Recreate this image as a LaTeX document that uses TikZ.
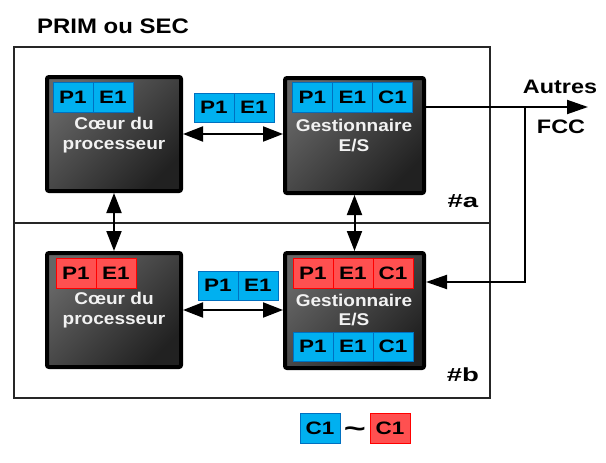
\documentclass[tikz,border=0pt]{standalone}
\usepackage{fontspec}
\setmainfont{Liberation Sans}
\newfontfamily\tagf[FakeStretch=1.25]{Liberation Sans}
\newfontfamily\lblf[FakeStretch=1.12]{Liberation Sans}
\newfontfamily\titlef[FakeStretch=1.14]{Liberation Sans}
\newfontfamily\sidef[FakeStretch=1.2]{Liberation Sans}
\newfontfamily\hashf[FakeStretch=1.45]{Liberation Sans}
\usetikzlibrary{arrows.meta,calc}
\definecolor{tagblue}{HTML}{00B0F0}
\definecolor{tagblueb}{HTML}{0070C0}
\definecolor{tagred}{HTML}{FF5050}
\definecolor{tagredb}{HTML}{FF0000}
\definecolor{lbltext}{HTML}{F2F2F2}
\begin{document}
\begin{tikzpicture}[x=1pt,y=-1pt,
  cell/.style={draw, line width=0.8pt, minimum width=40pt, minimum height=30pt, inner sep=0pt,
    font=\tagf\bfseries\fontsize{18}{18}\selectfont, text=black},
  bcell/.style={cell, fill=tagblue, draw=tagblueb},
  rcell/.style={cell, fill=tagred, draw=tagredb},
  unit/.style={draw=black, line width=4pt, rounded corners=2pt, top color=black!60,
    bottom color=black!87, shading angle=45, inner sep=0pt},
  lbl/.style={text=lbltext, font=\lblf\bfseries\fontsize{17}{19.5}\selectfont, align=center},
  txt/.style={font=\sidef\bfseries\fontsize{19.5}{20}\selectfont, text=black},
  hash/.style={font=\hashf\bfseries\fontsize{19}{20}\selectfont, text=black},
  arr/.style={line width=2pt, {Triangle[length=20pt,width=15pt]}-{Triangle[length=20pt,width=15pt]}},
  arrone/.style={line width=2pt, -{Triangle[length=21pt,width=14pt]}},
  frame/.style={draw=black!85, line width=1.2pt, inner sep=0pt}
]
\useasboundingbox (0,0) rectangle (606,463);

% frames
\node[frame, minimum width=476pt, minimum height=176pt] (fa) at (252,135) {};
\node[frame, minimum width=476pt, minimum height=175pt] (fb) at (252,310.5) {};

% title
\node[font=\titlef\bfseries\fontsize{21}{21}\selectfont] (title) at (113,26) {PRIM ou SEC};

% units
\node[unit, minimum width=134pt, minimum height=114pt] (ct) at (114,134) {};
\node[unit, minimum width=139pt, minimum height=115pt] (gt) at (354.5,135.5) {};
\node[unit, minimum width=134pt, minimum height=114pt] (cb) at (114,310) {};
\node[unit, minimum width=139pt, minimum height=115pt] (gb) at (354.5,310.5) {};

% labels
\node[lbl] (ctl) at (114,135) {Cœur du\\processeur};
\node[lbl] (gtl) at (354,135.5) {Gestionnaire\\E/S};
\node[lbl] (cbl) at (114,310) {Cœur du\\processeur};
\node[lbl] (gbl) at (354,310) {Gestionnaire\\E/S};

% tags core top
\node[bcell] (ctp) at (73,97) {P1};
\node[bcell] (cte) at (113,97) {E1};
% tags middle top
\node[bcell, minimum height=29pt] (mtp) at (214,107.5) {P1};
\node[bcell, minimum height=29pt] (mte) at (254,107.5) {E1};
% tags gest top
\node[bcell] (gtp) at (312.5,97) {P1};
\node[bcell] (gte) at (352.5,97) {E1};
\node[bcell] (gtc) at (392.5,97) {C1};

% tags core bottom
\node[rcell] (cbp) at (76,273) {P1};
\node[rcell] (cbe) at (116,273) {E1};
% tags middle bottom
\node[bcell, minimum height=29pt] (mbp) at (218,285.5) {P1};
\node[bcell, minimum height=29pt] (mbe) at (258,285.5) {E1};
% tags gest bottom
\node[rcell] (gbp) at (313,273) {P1};
\node[rcell] (gbe) at (353,273) {E1};
\node[rcell] (gbc) at (393,273) {C1};
\node[bcell, minimum height=29pt] (gbp2) at (313,346.5) {P1};
\node[bcell, minimum height=29pt] (gbe2) at (353,346.5) {E1};
\node[bcell, minimum height=29pt] (gbc2) at (393,346.5) {C1};

% corner labels
\node[hash] (la) at (463,201) {\#a};
\node[hash] (lb) at (463,375) {\#b};
\node[txt] (autres) at (560,87) {Autres};
\node[txt] (fcc) at (561,127) {FCC};

% legend
\node[bcell] (legb) at (320,428) {C1};
\node[font=\hashf\bfseries\fontsize{26}{26}\selectfont, anchor=base] (tilde) at (355,437) {\textasciitilde};
\node[rcell] (legr) at (390,428) {C1};

% connectors
\draw[arr] (ct.east) -- (ct.east -| gt.west);
\draw[arr] (cb.east) -- (cb.east -| gb.west);
\draw[arr] (ct.south) -- (cb.north);
\draw[arr] (gt.south) -- (gb.north);

\coordinate (outend) at (588,107);
\coordinate (junc) at (525,107);
\coordinate (inpt) at (525,282);
\draw[arrone] (gt.east |- outend) -- (outend);
\draw[arrone] (junc) -- (inpt) -- (gb.east |- inpt);
\end{tikzpicture}
\end{document}
